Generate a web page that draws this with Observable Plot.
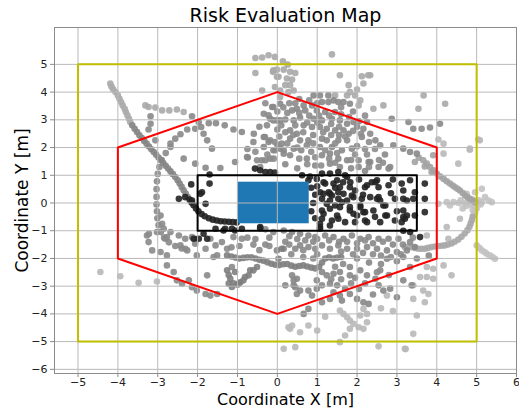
<!DOCTYPE html>
<html>
<head>
<meta charset="utf-8">
<script src="https://cdn.jsdelivr.net/npm/d3@7"></script>
<script src="https://cdn.jsdelivr.net/npm/@observablehq/plot@0.6"></script>
<style>
  html, body { margin: 0; padding: 0; background: #fff; }
  #chart svg { display: block; }
</style>
</head>
<body>
<div id="chart"></div>
<script>
// ---------- tick values ----------
const xTicks = [-5, -4, -3, -2, -1, 0, 1, 2, 3, 4, 5, 6];
const yTicks = [-6, -5, -4, -3, -2, -1, 0, 1, 2, 3, 4, 5];

// ---------- region outlines ----------
const yellowBox = [[-5, -5], [5, -5], [5, 5], [-5, 5], [-5, -5]];
const redHexagon = [[0, 4], [4, 2], [4, -2], [0, -4], [-4, -2], [-4, 2], [0, 4]];
const blackBox = [[-2, -1], [3.5, -1], [3.5, 1], [-2, 1], [-2, -1]];
const blueBox = [{x1: -1, x2: 0.8, y1: -0.75, y2: 0.75}];

// ---------- scatter points ----------
const trailNWLight = [[-4.19,4.31],[-4.16,4.2],[-4.12,4.1],[-4.06,4.0],[-4.0,3.88],[-3.96,3.76],[-3.92,3.64],[-3.88,3.52],[-3.83,3.4],[-3.8,3.28],[-3.76,3.16],[-3.72,3.04],[-3.69,2.92]];
const trailNWMid = [[-3.64,2.8],[-3.58,2.68],[-3.52,2.56],[-3.46,2.44],[-3.4,2.34],[-3.34,2.24],[-3.28,2.14],[-3.22,2.04],[-3.16,1.94],[-3.1,1.84],[-3.04,1.74],[-2.98,1.64],[-2.92,1.54],[-2.86,1.44],[-2.8,1.34],[-2.74,1.24],[-2.68,1.14],[-2.62,1.04],[-2.56,0.94],[-2.5,0.82],[-2.45,0.7],[-2.4,0.58],[-2.35,0.46],[-2.3,0.34],[-2.25,0.22]];
const trailArcDark = [[-2.2,0.12],[-2.15,0.02],[-2.1,-0.08],[-2.04,-0.2],[-1.98,-0.3],[-1.9,-0.4],[-1.82,-0.48],[-1.72,-0.55],[-1.62,-0.6],[-1.52,-0.63],[-1.42,-0.66],[-1.32,-0.67],[-1.22,-0.68],[-1.12,-0.69],[-1.02,-0.7]];
const darkPts = [[0.62,1.0],[0.78,0.82],[0.99,0.87],[1.12,1.06],[1.32,1.06],[1.53,1.12],[1.75,0.94],[1.2,0.7],[1.41,0.7],[1.57,0.57],[1.82,0.57],[1.07,0.39],[1.32,0.33],[1.66,0.33],[1.91,0.21],[2.2,0.57],[2.46,0.75],[2.54,0.57],[2.79,0.64],[2.33,0.21],[2.54,0.21],[2.95,0.15],[3.16,0.15],[1.12,0.15],[1.32,0.09],[1.53,0.15],[1.75,0.09],[2.12,0.15],[2.58,0.09],[3.41,0.15],[1.12,-0.27],[1.32,-0.21],[1.57,-0.15],[1.82,-0.27],[2.08,-0.15],[2.2,-0.33],[2.41,-0.27],[2.66,-0.09],[2.71,-0.45],[3.16,-0.27],[3.25,-0.45],[1.12,-0.57],[1.37,-0.63],[1.53,-0.57],[1.7,-0.69],[1.95,-0.69],[2.2,-0.63],[2.58,-0.69],[3.12,-0.69],[1.07,-0.87],[1.32,-0.81],[1.16,0.75],[1.5,0.82],[1.83,0.75],[1.29,0.39],[1.87,0.27],[2.25,0.64],[2.37,0.75],[2.5,0.82],[3.12,0.7],[3.33,0.82],[3.7,0.7],[3.7,0.15],[3.16,0.45],[3.45,0.39],[3.7,-0.33],[3.45,-0.45],[3.2,-0.57],[3.33,-1.05],[3.58,-1.23],[3.16,-1.0],[1.16,0.33],[1.37,0.27],[1.53,0.39],[1.24,-0.03],[1.45,-0.09],[1.62,0.03],[1.82,-0.15],[2.08,-0.09],[2.5,0.15],[2.71,-0.09],[1.16,-0.39],[1.5,-0.45],[1.91,-0.39],[2.16,-0.33],[2.25,-0.69],[2.75,-0.45],[2.95,-0.63],[3.16,-0.51],[3.25,0.09],[1.07,-0.75],[1.07,-0.93],[0.85,0.55],[0.95,0.3],[0.9,0.0],[0.85,-0.3],[0.95,-0.55],[1.0,0.6],[1.45,0.55],[1.65,0.75],[1.95,0.45],[2.05,0.85],[2.15,0.3],[2.0,-0.45],[2.45,-0.5],[2.85,0.35],[3.0,-0.3],[2.9,0.85],[0.82,0.95],[1.7,1.0],[-0.56,1.24],[-0.43,1.18],[-0.3,1.12],[-0.18,1.12],[-0.06,1.1],[-2.47,0.15],[-2.31,0.21],[-2.14,0.09],[-1.93,0.33],[-1.8,-0.03],[-1.7,1.03],[-1.7,0.7],[-1.89,0.39],[-2.16,0.67],[-1.35,-0.99],[-1.06,-0.99],[-0.43,-0.87],[-2.1,-1.29],[-1.85,-1.11],[-1.97,-1.29],[-1.76,-1.29],[-1.55,-0.93],[-1.31,-0.93],[-1.14,-0.93],[-0.89,-0.93],[-0.43,-0.91]];
const upperLight = [[-3.31,3.52],[-3.23,3.46],[-3.06,3.44],[-2.89,3.34],[-2.71,3.34],[-2.52,3.37],[-2.35,3.28],[-0.55,5.23],[-0.38,5.25],[-0.22,5.33],[-0.06,5.27],[1.37,5.36],[0.14,5.11],[0.26,4.99],[-0.55,4.69],[-0.11,4.73],[-0.01,4.81],[0.16,4.81],[0.32,4.73],[0.45,4.69],[0.24,4.49],[0.37,4.45],[-0.01,4.55],[1.57,4.61],[2.12,4.57],[2.28,4.61],[1.79,4.25],[2.16,4.31],[2.0,4.09],[1.82,4.0],[1.75,3.88],[1.95,3.88],[1.45,3.88],[2.08,3.7],[2.04,3.52],[0.2,4.25],[0.32,4.25],[0.41,4.06],[0.28,4.0],[-0.38,4.06],[-0.06,4.18],[0.07,3.82],[0.07,4.06],[-0.1,4.79],[2.41,3.4],[2.66,3.52],[2.33,4.61],[3.67,3.88],[4.21,3.58],[3.54,3.4],[0.03,4.55]];
const upperMid = [[-2.14,3.13],[-1.97,2.92],[-1.91,2.74],[-1.85,2.5],[-1.76,2.26],[-1.64,1.96],[-3.18,3.13],[-3.18,2.86],[-3.23,2.65],[-1.72,2.88],[-1.54,2.88],[-1.32,2.8],[-1.1,2.65],[-0.89,2.56],[-2.06,2.68],[-2.26,2.65],[-2.43,2.48],[-2.56,2.32],[-2.68,2.14],[-2.35,1.6],[-2.06,1.42],[-1.8,1.27],[-1.43,1.26],[-1.06,1.48],[-0.74,1.64],[-3.06,2.26],[-0.59,2.5],[-0.34,2.38],[-0.18,2.26],[-0.06,2.2],[-0.26,2.8],[-0.1,2.98],[0.07,2.98],[-0.22,3.16],[-0.1,3.46],[0.07,3.58],[-0.76,1.66],[-0.39,1.54],[-0.18,1.6],[-0.06,1.9],[0.07,1.96],[0.16,1.78],[0.91,3.88],[1.07,3.88],[1.28,3.88],[1.12,3.64],[1.28,3.64],[1.41,3.7],[1.53,3.64],[1.66,3.64],[1.82,3.58],[0.87,3.52],[0.66,3.52],[0.49,3.4],[0.37,3.34],[0.7,3.34],[0.99,3.34],[1.2,3.28],[1.45,3.28],[3.41,2.68],[-0.13,3.46],[-0.34,3.22],[-0.18,3.04],[-0.01,2.98],[0.2,3.01],[0.41,2.98],[0.57,3.08],[0.91,3.04],[1.12,2.98],[1.37,3.04],[1.57,2.98],[1.75,2.86],[1.91,2.92],[2.25,2.92],[2.16,2.68],[0.66,2.8],[0.87,2.74],[1.07,2.74],[1.24,2.68],[1.45,2.62],[1.66,2.62],[1.79,2.5],[2.33,2.5],[0.32,2.62],[0.49,2.5],[-0.31,2.38],[-0.22,2.2],[0.32,2.32],[0.57,2.26],[0.78,2.26],[1.12,2.32],[1.24,2.26],[1.53,2.26],[1.75,2.26],[2.12,2.38],[2.46,2.26],[2.58,2.08],[2.91,2.08],[3.16,1.96],[3.33,1.84],[3.5,1.78],[-0.34,2.02],[-0.1,1.9],[0.11,2.14],[0.16,1.9],[0.41,1.96],[0.74,2.08],[1.07,2.02],[1.37,2.02],[1.62,1.9],[1.87,1.96],[0.32,1.72],[0.74,1.6],[1.12,1.72],[1.32,1.78],[1.53,1.6],[1.75,1.54],[2.04,1.54],[2.29,1.48],[2.54,1.3],[2.83,1.3],[1.32,1.42],[1.57,1.3],[2.04,1.3],[-0.51,1.54],[-0.3,1.54],[-0.09,1.6],[-0.43,1.3],[2.79,1.24],[2.33,1.48],[2.87,3.04],[0.5,1.25],[0.95,1.35],[1.85,1.25],[2.2,1.15],[0.2,1.4],[0.6,1.9],[2.0,2.05],[2.7,1.75],[0.9,2.45],[1.55,2.45],[2.0,2.75],[0.2,2.55],[-0.45,2.75],[-0.6,2.2],[-0.75,1.95],[0.0,2.65],[3.29,2.92],[3.62,2.68],[3.83,2.72],[4.08,2.86]];
const upperExtra = [[0.55,3.75],[0.8,3.7],[1.0,3.6],[1.6,3.45],[1.9,3.3],[2.2,3.15],[0.3,3.6],[0.0,3.3],[0.25,3.25],[0.55,3.25],[0.8,3.15],[1.05,3.15],[1.3,3.15],[1.6,3.2],[1.8,3.1],[2.05,2.95],[0.1,2.8],[0.45,2.8],[0.75,2.9],[1.0,2.9],[1.35,2.85],[1.55,2.75],[1.9,2.6],[2.1,2.5],[0.05,2.4],[0.4,2.45],[0.65,2.55],[1.15,2.55],[1.35,2.45],[1.7,2.4],[2.3,2.2],[0.0,2.1],[0.25,2.15],[0.9,2.15],[1.45,2.15],[2.2,1.95],[2.45,1.95],[0.5,2.0],[0.85,1.85],[1.2,1.9],[1.5,1.8],[1.95,1.75],[2.25,1.75],[0.55,1.6],[0.95,1.65],[1.3,1.6],[1.85,1.55],[2.55,1.55],[0.75,1.4],[1.1,1.35],[1.45,1.45],[2.3,1.3],[2.65,1.45],[-0.25,1.75],[-0.55,1.85],[-0.3,3.6],[0.15,3.45],[0.45,3.6]];
const leftMid = [[-2.68,2.02],[-2.8,1.8],[-2.9,1.55],[-2.96,1.3],[-3.0,1.05],[-3.02,0.78],[-3.03,0.5],[-3.03,0.22],[-3.03,-0.05],[-3.02,-0.3],[-3.01,-0.55],[-2.98,-0.8],[-2.92,-1.05],[-2.84,-1.25],[-2.72,-1.42],[-2.56,-1.55],[-2.4,-1.64],[-2.26,-1.71],[-3.27,-1.17],[-3.23,-1.41],[-3.14,-1.71],[-2.93,-1.77],[-2.77,-1.89],[-3.02,-1.05],[-2.81,-1.29],[-2.31,-1.65],[-2.06,-1.29],[-2.43,-1.53],[-2.47,-1.17],[-2.31,-1.29],[-2.14,-1.23],[-2.06,-1.47],[-1.8,-1.65],[-1.68,-1.29],[-1.55,-1.53],[-1.51,-1.89],[-1.39,-1.41],[-1.26,-1.65],[-1.14,-2.31],[-1.76,-2.61],[-2.77,-2.25],[-2.6,-2.49],[-2.52,-2.79],[-2.39,-2.91],[-2.22,-2.79],[-2.14,-3.04],[-2.02,-3.16],[-1.8,-3.28],[-1.68,-3.34],[-1.51,-3.28],[-2.02,-1.89],[-1.6,-1.95],[-3.22,-1.11],[-0.89,-1.29],[-1.1,-1.23],[-2.93,-0.45],[-2.89,-0.75],[-2.85,-0.93],[-2.68,-1.05],[-2.77,-1.23]];
const bandDense = [[-1.26,-1.89],[-1.15,-1.93],[-1.05,-1.97],[-0.95,-2.0],[-0.85,-1.98],[-0.75,-1.96],[-0.65,-1.96],[-0.55,-2.0],[-0.45,-2.05],[-0.35,-2.08],[-0.25,-2.14],[-0.15,-2.19],[-0.05,-2.23],[0.05,-2.24],[0.15,-2.21],[0.25,-2.2],[0.35,-2.26],[0.45,-2.3],[0.55,-2.27],[0.65,-2.25],[0.75,-2.29],[0.85,-2.33],[0.95,-2.36],[1.05,-2.3],[1.12,-2.15],[1.2,-2.0],[1.3,-1.96],[1.4,-2.0],[1.5,-1.97],[1.6,-1.95],[-1.26,-2.43],[-1.22,-2.6],[-1.18,-2.73],[-1.1,-2.9],[-1.0,-2.95],[-0.93,-2.86],[-0.81,-2.67],[-0.68,-2.43],[-0.51,-2.31],[-1.06,-2.49],[-1.22,-2.91],[-1.14,-3.03],[-0.97,-2.91],[-0.85,-2.79],[-0.72,-2.61],[-0.6,-2.43],[0.03,-2.01],[0.11,-1.65]];
const bandMid = [[0.16,-0.99],[0.37,-1.05],[0.57,-1.11],[0.78,-1.17],[0.95,-1.23],[1.2,-1.17],[1.41,-1.23],[1.66,-1.29],[1.87,-1.17],[2.08,-1.29],[2.29,-1.23],[2.54,-1.29],[2.79,-1.29],[3.04,-1.29],[3.33,-1.41],[0.57,-1.53],[0.78,-1.59],[1.12,-1.53],[1.32,-1.65],[1.53,-1.53],[1.75,-1.65],[2.0,-1.65],[2.25,-1.59],[2.5,-1.65],[2.75,-1.71],[3.0,-1.77],[3.25,-1.71],[3.45,-1.59],[0.16,-1.65],[0.45,-1.65],[-0.01,-1.71],[0.2,-1.4],[0.9,-1.4],[1.55,-1.4],[2.4,-1.45],[2.9,-1.5],[-0.3,-1.5],[-0.55,-1.3],[-0.2,-1.25],[1.24,-2.61],[1.41,-2.55],[1.57,-2.49],[1.82,-2.31],[1.82,-2.61],[2.08,-2.43],[2.25,-2.61],[2.46,-2.73],[2.54,-2.97],[2.66,-3.16],[2.83,-3.09],[1.12,-2.49],[0.49,-2.73],[0.37,-2.61],[0.41,-2.97],[0.57,-3.16],[0.78,-3.16],[0.99,-3.09],[1.12,-2.97],[1.32,-2.91],[1.5,-2.97],[1.7,-3.09],[1.82,-3.28],[2.0,-3.46],[2.16,-3.58],[2.29,-3.64],[1.41,-3.22],[1.57,-3.34],[1.62,-3.52],[1.32,-3.46],[0.78,-3.82],[0.66,-4.0],[0.41,-2.79],[0.45,-3.04],[0.49,-3.28],[0.2,-2.97],[0.99,-2.79],[0.87,-3.34],[1.12,-3.58],[3.16,-1.95],[3.33,-2.31],[3.16,-2.79],[3.37,-2.97],[3.0,-3.4],[2.75,-2.01],[2.58,-2.43],[2.0,-2.0],[2.3,-2.15],[2.6,-2.2],[3.0,-2.1],[2.2,-2.9],[1.95,-2.7],[2.8,-2.6],[3.5,-2.0],[3.8,-1.9]];
const bandExtra = [[0.3,-1.2],[0.5,-1.3],[0.7,-1.35],[1.0,-1.3],[1.3,-1.35],[1.75,-1.4],[2.0,-1.45],[2.2,-1.35],[2.65,-1.4],[3.15,-1.5],[3.4,-1.25],[0.3,-1.5],[0.65,-1.7],[0.95,-1.65],[1.6,-1.75],[1.9,-1.85],[2.15,-1.8],[2.4,-1.85],[2.6,-1.9],[2.85,-1.95],[3.1,-1.85],[0.35,-1.85],[0.65,-1.95],[0.9,-2.0],[1.0,-1.85],[-0.2,-1.55],[-0.45,-1.7],[-0.6,-1.5],[-0.75,-1.25],[-0.95,-1.55],[-1.15,-1.6],[-0.3,-0.95],[-0.1,-1.05],[1.45,-2.3],[1.65,-2.2],[1.35,-2.75],[1.6,-2.75],[1.85,-2.9],[2.05,-3.1],[2.4,-3.3],[2.5,-2.5]];
const rightTrail = [[3.55,1.63],[3.66,1.54],[3.75,1.42],[3.83,1.3],[3.92,1.18],[4.0,1.06],[4.08,0.96],[4.17,0.87],[4.25,0.78],[4.33,0.7],[4.4,0.63],[4.46,0.57],[4.52,0.51],[4.58,0.45],[4.65,0.36],[4.71,0.27],[4.77,0.21],[4.83,0.15],[4.9,0.09],[4.96,0.03],[3.45,1.48],[3.7,1.32],[3.87,1.12],[3.91,1.72]];
const rightCurve = [[4.9,-0.5],[4.88,-0.62],[4.85,-0.74],[4.82,-0.86],[4.77,-0.98],[4.7,-1.1],[4.62,-1.22],[4.54,-1.32],[4.45,-1.4],[4.37,-1.46],[4.28,-1.5],[4.2,-1.53],[4.12,-1.54],[4.04,-1.55],[3.95,-1.57],[3.87,-1.59],[3.78,-1.62],[3.7,-1.65],[3.62,-1.65],[3.54,-1.65],[3.45,-1.62],[3.37,-1.59],[3.28,-1.59],[3.2,-1.59]];
const paleCluster = [[4.6,0.1],[4.7,0.0],[4.75,-0.1],[4.8,0.05],[4.85,-0.05],[4.9,0.12],[4.95,-0.12],[5.0,0.0],[5.05,0.1],[5.1,-0.05],[5.0,-0.2],[4.9,-0.25],[5.13,0.03],[5.21,0.21],[5.3,0.09],[5.38,0.03],[5.13,0.51],[4.96,0.39],[4.75,0.33],[4.65,-0.2],[4.55,0.0],[4.42,0.03],[4.33,-0.09],[4.25,0.03],[4.04,-0.03],[4.96,-0.35],[4.92,-0.45],[5.0,-1.53],[5.07,-1.62],[5.13,-1.71],[5.2,-1.77],[5.25,-1.83],[5.33,-1.89],[5.4,-1.95],[5.46,-2.01]];
const outerLight = [[4.17,1.78],[4.54,1.42],[4.83,1.92],[5.08,2.26],[5.04,2.29],[4.83,1.96],[4.58,-0.57],[4.25,-0.87],[4.29,-1.29],[3.75,-1.17],[4.17,-2.25],[4.37,-2.61],[3.75,-2.31],[3.58,-2.67],[3.91,-2.73],[3.41,-2.97],[3.66,-3.16],[3.79,-3.28],[3.7,-3.58],[3.41,-3.46],[3.5,-4.06],[3.41,-4.72],[3.2,-5.26],[3.91,-2.37],[3.75,-2.67],[4.04,2.29],[4.17,2.14],[1.57,-3.88],[1.66,-4.0],[1.75,-4.12],[1.82,-4.24],[1.91,-4.36],[2.04,-4.48],[2.16,-4.54],[1.82,-4.54],[1.7,-4.78],[1.57,-5.02],[2.08,-4.06],[2.25,-4.0],[2.25,-4.3],[2.16,-3.82],[0.78,-4.42],[0.32,-4.54],[0.16,-5.26],[0.45,-5.2],[2.54,-5.17],[3.22,-5.27],[0.37,-4.42],[0.57,-4.66],[0.28,-4.48],[2.75,-3.34],[2.9,-3.9],[2.6,-3.8],[1.2,-4.1],[1.0,-4.6],[-4.44,-2.49],[-3.94,-2.64],[-3.48,-2.88],[-3.02,-2.83]];

const groups = [
  {pts: outerLight, c: "#b8b8b8"},
  {pts: paleCluster, c: "#c2c2c2"},
  {pts: rightCurve, c: "#a9a9a9"},
  {pts: rightTrail, c: "#a2a2a2"},
  {pts: upperLight, c: "#a8a8a8"},
  {pts: trailNWLight, c: "#ababab"},
  {pts: upperMid, c: "#888888"},
  {pts: upperExtra, c: "#8c8c8c"},
  {pts: leftMid, c: "#8a8a8a"},
  {pts: bandMid, c: "#878787"},
  {pts: bandExtra, c: "#8a8a8a"},
  {pts: bandDense, c: "#7e7e7e"},
  {pts: trailNWMid, c: "#858585"},
  {pts: trailArcDark, c: "#222222"},
  {pts: darkPts, c: "#222222"}
];
const points = groups.flatMap(g => g.pts.map(([x, y]) => ({x, y, c: g.c})));

const toXY = arr => arr.map(([x, y]) => ({x, y}));
const fmt = d => (d < 0 ? "\u2212" : "") + Math.abs(d);

const chart = Plot.plot({
  width: 519,
  height: 408,
  marginLeft: 54,
  marginRight: 3,
  marginTop: 27,
  marginBottom: 35,
  style: {fontFamily: "'DejaVu Sans', sans-serif", fontSize: "11px", color: "#222", background: "#fff"},
  x: {domain: [-5.59, 6.0]},
  y: {domain: [-6.15, 6.33]},
  marks: [
    Plot.dot(points, {x: "x", y: "y", r: 3.3, fill: "c", stroke: null, fillOpacity: 0.9}),
    Plot.rect(blueBox, {x1: "x1", x2: "x2", y1: "y1", y2: "y2", fill: "#1f77b4"}),
    Plot.gridX(xTicks, {stroke: "#b9b9b9", strokeOpacity: 1, strokeWidth: 1}),
    Plot.gridY(yTicks, {stroke: "#b9b9b9", strokeOpacity: 1, strokeWidth: 1}),
    Plot.line(toXY(yellowBox), {x: "x", y: "y", stroke: "#bfbf00", strokeWidth: 2}),
    Plot.line(toXY(redHexagon), {x: "x", y: "y", stroke: "#ff0000", strokeWidth: 2}),
    Plot.line(toXY(blackBox), {x: "x", y: "y", stroke: "#000000", strokeWidth: 2}),
    Plot.frame({stroke: "#8c8c8c", strokeWidth: 1}),
    Plot.axisX(xTicks, {tickFormat: fmt, tickSize: 4, tickPadding: 1, stroke: "#8c8c8c", fill: "#222", label: null, fontSize: 11}),
    Plot.axisY(yTicks, {tickFormat: fmt, tickSize: 4, tickPadding: 3, stroke: "#8c8c8c", fill: "#222", label: null, fontSize: 11}),
    Plot.text(["Risk Evaluation Map"], {frameAnchor: "top", lineAnchor: "middle", textAnchor: "middle", dy: -12, fontSize: 19, fill: "#000", text: d => d}),
    Plot.text(["Coordinate X [m]"], {frameAnchor: "bottom", lineAnchor: "middle", textAnchor: "middle", dy: 26, fontSize: 16, fill: "#000", text: d => d}),
    Plot.text(["Coordinate Y [m]"], {frameAnchor: "left", lineAnchor: "middle", textAnchor: "middle", dx: -32, rotate: -90, fontSize: 17, fill: "#000", text: d => d})
  ]
});
document.getElementById("chart").appendChild(chart);
</script>
</body>
</html>
